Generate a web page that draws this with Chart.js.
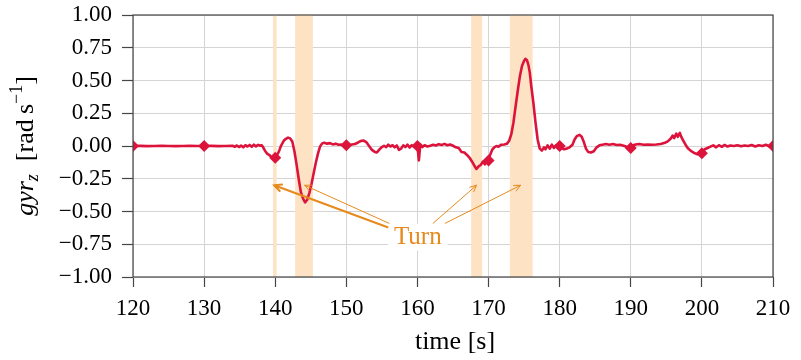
<!DOCTYPE html>
<html>
<head>
<meta charset="utf-8">
<script src="https://cdn.jsdelivr.net/npm/chart.js@4"></script>
<style>
  html, body { margin: 0; padding: 0; background: #fff; }
</style>
</head>
<body>
<canvas id="gyrChart" width="801" height="360"></canvas>
<script>
// gyroscope z-rate over time, turning phases shaded
const timeS = [
  120.0, 121.0, 122.0, 123.0, 124.0, 125.0, 126.0, 127.0, 128.0, 129.0,
  130.0, 131.0, 132.0, 133.0, 134.0, 134.3, 134.6, 134.9, 135.2, 135.5,
  135.8, 136.1, 136.4, 136.7, 137.0, 137.3, 137.6, 137.9, 138.1, 138.3,
  138.6, 138.9, 139.2, 139.5, 139.8, 140.0, 140.2, 140.4, 140.6, 140.8,
  141.0, 141.2, 141.5, 141.8, 142.1, 142.4, 142.7, 143.0, 143.3, 143.6,
  143.9, 144.2, 144.5, 144.8, 145.1, 145.4, 145.7, 146.0, 146.3, 146.6,
  146.9, 147.3, 147.7, 148.1, 148.5, 148.9, 149.3, 149.7, 150.0, 150.4,
  150.8, 151.2, 151.6, 152.0, 152.4, 152.8, 153.2, 153.6, 154.0, 154.3,
  154.6, 154.9, 155.3, 155.6, 155.9, 156.2, 156.5, 156.8, 157.1, 157.4,
  157.7, 158.0, 158.3, 158.6, 158.9, 159.2, 159.5, 159.8, 160.0, 160.2,
  160.4, 160.7, 161.0, 161.4, 161.8, 162.2, 162.6, 163.0, 163.4, 163.8,
  164.2, 164.6, 165.0, 165.4, 165.8, 166.2, 166.6, 167.0, 167.4, 167.8,
  168.1, 168.3, 168.6, 168.9, 169.2, 169.5, 169.8, 170.0, 170.2, 170.5,
  170.8, 171.1, 171.4, 171.8, 172.2, 172.6, 172.9, 173.2, 173.5, 173.8,
  174.1, 174.4, 174.7, 175.0, 175.2, 175.4, 175.6, 175.8, 176.0, 176.3,
  176.6, 176.9, 177.2, 177.5, 177.8, 178.0, 178.3, 178.6, 178.9, 179.2,
  179.5, 179.8, 180.0, 180.3, 180.6, 181.0, 181.4, 181.8, 182.1, 182.4,
  182.8, 183.1, 183.4, 183.7, 184.0, 184.4, 184.8, 185.2, 185.6, 186.0,
  186.5, 187.0, 187.5, 188.0, 188.5, 189.0, 189.5, 190.0, 190.3, 190.7,
  191.2, 191.8, 192.4, 193.0, 193.6, 194.2, 194.8, 195.2, 195.6, 195.9,
  196.1, 196.4, 196.6, 196.9, 197.1, 197.4, 197.7, 198.0, 198.4, 198.8,
  199.2, 199.6, 200.0, 200.4, 200.8, 201.2, 201.6, 202.0, 202.4, 202.8,
  203.2, 203.6, 204.0, 204.5, 205.0, 205.5, 206.0, 206.5, 207.0, 207.5,
  208.0, 208.5, 209.0, 209.5, 210.0
];
const gyrZ = [
  0.000, 0.001, -0.001, 0.000, 0.001, 0.000, -0.001, 0.000, 0.001, 0.000,
  0.000, 0.001, -0.001, 0.000, 0.002, -0.006, 0.004, -0.008, 0.003, -0.010,
  0.006, -0.004, 0.008, -0.006, 0.010, -0.003, 0.009, 0.002, 0.006, -0.010,
  -0.040, -0.060, -0.070, -0.085, -0.100, -0.090, -0.070, -0.055, -0.030, 0.000,
  0.020, 0.040, 0.055, 0.064, 0.058, 0.035, -0.040, -0.140, -0.250, -0.350,
  -0.400, -0.430, -0.410, -0.360, -0.290, -0.210, -0.130, -0.060, -0.005, 0.020,
  0.025, 0.018, 0.022, 0.012, 0.018, 0.010, 0.012, 0.005, 0.005, 0.008,
  0.012, 0.015, 0.025, 0.038, 0.042, 0.030, 0.000, -0.030, -0.045, -0.050,
  -0.030, -0.012, 0.002, -0.008, 0.010, -0.004, 0.006, -0.010, 0.004, -0.030,
  -0.020, 0.005, -0.008, 0.010, -0.012, 0.006, -0.006, 0.010, 0.000, -0.110,
  0.012, -0.008, 0.006, -0.004, 0.002, 0.010, 0.004, 0.014, 0.008, 0.016,
  0.006, 0.012, 0.002, -0.010, -0.015, -0.045, -0.050, -0.070, -0.095, -0.130,
  -0.160, -0.175, -0.155, -0.145, -0.120, -0.140, -0.100, -0.110, -0.070, -0.030,
  -0.010, 0.000, -0.005, 0.010, 0.012, 0.018, 0.040, 0.090, 0.180, 0.300,
  0.420, 0.530, 0.610, 0.650, 0.665, 0.655, 0.620, 0.560, 0.460, 0.330,
  0.180, 0.050, -0.020, -0.035, -0.010, -0.025, 0.005, -0.020, 0.010, -0.015,
  0.006, -0.020, 0.000, -0.015, -0.025, -0.020, -0.010, 0.010, 0.050, 0.075,
  0.085, 0.070, 0.030, -0.020, -0.045, -0.050, -0.040, -0.010, 0.005, 0.010,
  0.015, 0.010, 0.015, 0.008, 0.010, 0.002, -0.008, -0.015, 0.005, 0.012,
  0.015, 0.010, 0.012, 0.010, 0.012, 0.015, 0.025, 0.035, 0.055, 0.080,
  0.060, 0.095, 0.070, 0.100, 0.070, 0.040, 0.010, -0.015, -0.035, -0.050,
  -0.060, -0.065, -0.055, -0.025, -0.015, -0.005, 0.005, -0.010, 0.006, -0.006,
  0.008, -0.004, 0.004, 0.000, 0.006, -0.002, 0.004, 0.000, 0.008, -0.004,
  0.006, 0.000, 0.010, -0.004, 0.000
];
const markEvery = 10;

// turning phases [s]
const turnStart = [139.7, 142.8, 167.55, 173.0];
const turnEnd   = [140.2, 145.3, 169.1, 176.2];

// "Turn" callout arrows, in axis units
const arrowTailT = [155.8, 156.0, 162.2, 163.9];
const arrowTailY = [-0.62, -0.59, -0.59, -0.59];
const arrowHeadT = [139.85, 144.15, 168.3, 174.5];
const arrowHeadY = [-0.30, -0.30, -0.30, -0.30];
const arrowWidth = [2, 1, 1, 1];
const turnLabelT = 160.05;
const turnLabelY = -0.70;

const SERIF = "'Liberation Serif', 'Times New Roman', serif";
const LINE_RED = '#dc143c';
const TURN_ORANGE = '#e8891c';

const bands = {
  id: 'bands',
  beforeDatasetsDraw(chart) {
    const {ctx, chartArea: a, scales: {x}} = chart;
    ctx.save();
    ctx.fillStyle = '#fde3c4';
    for (let i = 0; i < turnStart.length; i++) {
      const x0 = x.getPixelForValue(turnStart[i]);
      const x1 = x.getPixelForValue(turnEnd[i]);
      ctx.fillRect(x0, a.top, x1 - x0, a.bottom - a.top);
    }
    ctx.restore();
  }
};

const frame = {
  id: 'frame',
  afterDatasetsDraw(chart) {
    const {ctx, chartArea: a, scales: {x, y}} = chart;
    ctx.save();
    ctx.strokeStyle = '#454545';
    ctx.lineWidth = 1.2;
    ctx.strokeRect(a.left, a.top, a.right - a.left, a.bottom - a.top);

    // callout box + arrows
    ctx.font = '25px ' + SERIF;
    const lx = x.getPixelForValue(turnLabelT);
    const ly = y.getPixelForValue(turnLabelY);
    const tw = ctx.measureText('Turn').width;
    ctx.fillStyle = '#fff';
    ctx.fillRect(lx - tw / 2 - 6, ly - 14, tw + 12, 27);
    ctx.strokeStyle = TURN_ORANGE;
    ctx.lineCap = 'round';
    for (let i = 0; i < arrowTailT.length; i++) {
      const x0 = x.getPixelForValue(arrowTailT[i]);
      const y0 = y.getPixelForValue(arrowTailY[i]);
      const x1 = x.getPixelForValue(arrowHeadT[i]);
      const y1 = y.getPixelForValue(arrowHeadY[i]);
      const ang = Math.atan2(y1 - y0, x1 - x0);
      const hl = arrowWidth[i] > 1 ? 8 : 7;
      ctx.lineWidth = arrowWidth[i];
      ctx.beginPath();
      ctx.moveTo(x0, y0);
      ctx.lineTo(x1, y1);
      ctx.moveTo(x1 - hl * Math.cos(ang - 0.45), y1 - hl * Math.sin(ang - 0.45));
      ctx.lineTo(x1, y1);
      ctx.lineTo(x1 - hl * Math.cos(ang + 0.45), y1 - hl * Math.sin(ang + 0.45));
      ctx.stroke();
    }
    ctx.fillStyle = TURN_ORANGE;
    ctx.textAlign = 'center';
    ctx.textBaseline = 'middle';
    ctx.fillText('Turn', lx, ly);

    // x axis title
    ctx.fillStyle = '#000';
    ctx.textBaseline = 'alphabetic';
    ctx.font = '26px ' + SERIF;
    ctx.fillText('time [s]', (a.left + a.right) / 2 + 2, 349);

    // y axis title: gyr_z [rad s^-1]
    const big = 26, small = 18;
    const parts = [
      {t: 'gyr', f: 'italic ' + big + 'px ' + SERIF, dy: 0},
      {t: 'z', f: 'italic ' + small + 'px ' + SERIF, dy: 5},
      {t: '  [rad\u2009s', f: big + 'px ' + SERIF, dy: 0},
      {t: '\u22121', f: small + 'px ' + SERIF, dy: -11},
      {t: ']', f: big + 'px ' + SERIF, dy: 0}
    ];
    let total = 0;
    for (const p of parts) { ctx.font = p.f; p.w = ctx.measureText(p.t).width; total += p.w; }
    ctx.translate(33, (a.top + a.bottom) / 2);
    ctx.rotate(-Math.PI / 2);
    ctx.textAlign = 'left';
    let cx = -total / 2;
    for (const p of parts) {
      ctx.font = p.f;
      ctx.fillText(p.t, cx, p.dy);
      cx += p.w;
    }
    ctx.restore();
  }
};

new Chart(document.getElementById('gyrChart'), {
  type: 'line',
  data: {
    datasets: [{
      data: timeS.map((t, i) => ({x: t, y: gyrZ[i]})),
      borderColor: LINE_RED,
      backgroundColor: LINE_RED,
      borderWidth: 2.6,
      borderJoinStyle: 'round',
      tension: 0,
      pointStyle: 'rectRot',
      pointRadius: ctx => (ctx.raw && ctx.raw.x % markEvery === 0) ? 6 : 0,
      pointHoverRadius: 0,
      pointBorderWidth: 0
    }]
  },
  options: {
    responsive: false,
    animation: false,
    events: [],
    layout: {padding: {top: 15, right: 28, left: 0, bottom: 0}},
    plugins: {legend: {display: false}, tooltip: {enabled: false}},
    scales: {
      x: {
        type: 'linear',
        min: 120, max: 210,
        afterFit: s => { s.height = 83; s.paddingLeft = 0; s.paddingRight = 0; },
        ticks: {stepSize: 10, maxRotation: 0, autoSkip: false, padding: 8,
                color: '#000', font: {family: SERIF, size: 23}},
        grid: {color: '#d4d4d4', lineWidth: 1, tickLength: 10, tickColor: '#454545', tickWidth: 1.2},
        border: {display: false}
      },
      y: {
        min: -1, max: 1,
        afterFit: s => { s.width = 133; s.paddingTop = 0; s.paddingBottom = 0; },
        ticks: {stepSize: 0.25, padding: 10, color: '#000', font: {family: SERIF, size: 23},
                callback: v => (v < 0 ? '\u2212' : '') + Math.abs(v).toFixed(2)},
        grid: {color: '#d4d4d4', lineWidth: 1, tickLength: 11, tickColor: '#454545', tickWidth: 1.2},
        border: {display: false}
      }
    }
  },
  plugins: [bands, frame]
});
</script>
</body>
</html>
